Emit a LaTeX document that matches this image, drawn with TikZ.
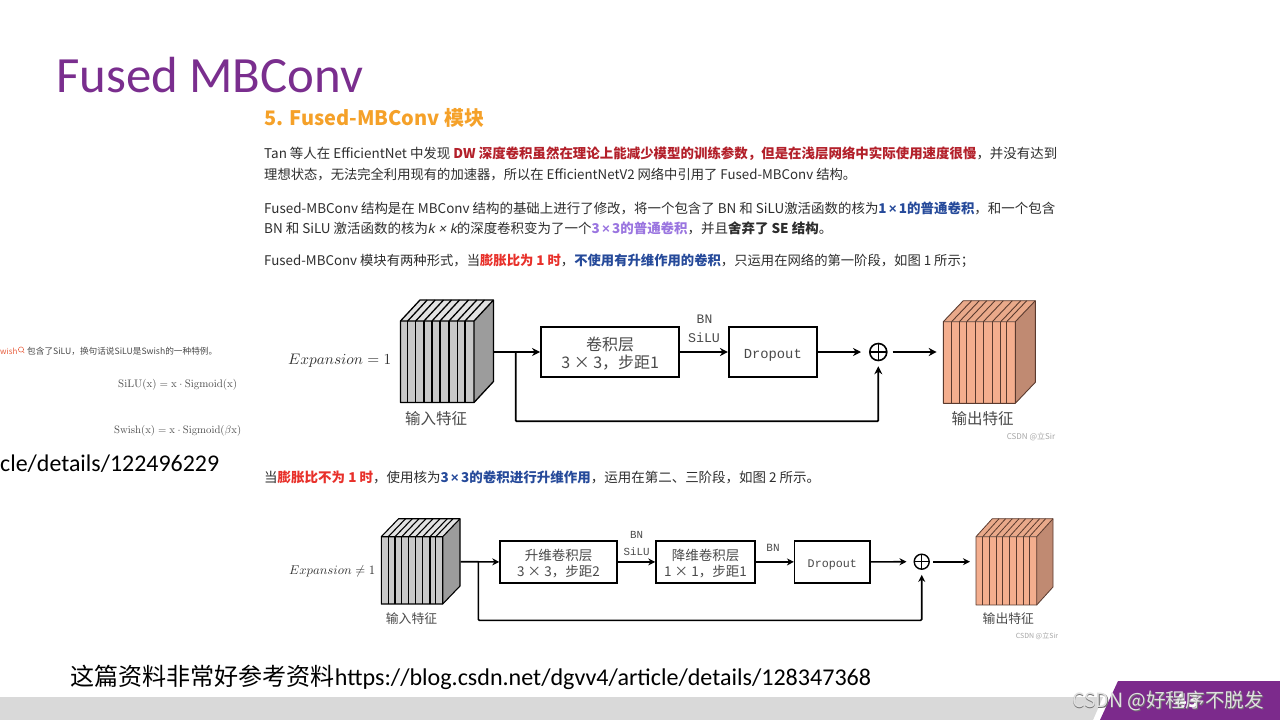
\documentclass[tikz,border=0pt]{standalone}
\usepackage[no-math]{fontspec}
\usepackage{graphicx}
\usetikzlibrary{arrows.meta}
\setmainfont{Noto Sans CJK SC}
\newfontfamily\carl{Carlito}
\newfontfamily\monof{Liberation Mono}
\newfontfamily\arial{Liberation Sans}
\newfontfamily\slantf[FakeSlant=0.2]{Liberation Sans}
\newcommand\fsz[1]{\fontsize{#1pt}{#1pt}\selectfont}
\newcommand\tms{{\arial ×}}
\definecolor{ptitle}{HTML}{7A2E8E}
\definecolor{pbar}{HTML}{7C2A8C}
\definecolor{barg}{HTML}{D9D9D9}
\definecolor{txt}{HTML}{2E2E2E}
\definecolor{lbl}{HTML}{4A4A4A}
\definecolor{head}{HTML}{F5A129}
\definecolor{dred}{HTML}{B3202A}
\definecolor{bred}{HTML}{E8302A}
\definecolor{dblue}{HTML}{264A9A}
\definecolor{lpur}{HTML}{9A75E0}
\definecolor{sfront}{HTML}{F4AE8E}
\definecolor{sside}{HTML}{C08A72}
\definecolor{stop}{HTML}{E9A98A}
\definecolor{gfront}{HTML}{C8C8C8}
\definecolor{gside}{HTML}{9C9C9C}
\definecolor{gtop}{HTML}{E2E2E2}
\definecolor{sline}{HTML}{5A3A2E}
% front, side, top, line, width
\newcommand\featlook[5]{\def\ffront{#1}\def\fside{#2}\def\ftop{#3}\def\fline{#4}\def\fwd{#5}}
% name, x0, ytop, x1, ybot, dx, dy, stripes
\newcommand\featblock[8]{%
  \node[inner sep=0pt,minimum width={#4-#2},minimum height={#5-#3},anchor=north west] (#1) at (#2,#3) {};
  \fill[\ftop] (#2,#3) -- ++(#6,-#7) -- ++(#4-#2,0) -- ++(-#6,#7) -- cycle;
  \fill[\ffront] (#2,#3) rectangle (#4,#5);
  \fill[\fside] (#4,#3) -- ++(#6,-#7) -- ++(0,#5-#3) -- ++(-#6,#7) -- cycle;
  \foreach \sx in {#8} {
    \draw[\fline,line width=\fwd] (\sx,#3) -- (\sx,#5);
    \draw[\fline,line width=\fwd] (\sx,#3) -- ++(#6,-#7);
  }
  \draw[\fline,line width=\fwd,line join=round] (#2,#3) -- ++(#6,-#7) -- ++(#4-#2,0) -- ++(0,#5-#3) -- ++(-#6,#7) -- (#2,#5) -- cycle;
  \draw[\fline,line width=\fwd] (#2,#3) -- (#4,#3) -- (#4,#5) (#4,#3) -- ++(#6,-#7);
}
% name, x, y, width, content
\newcommand\tl[5]{\node[anchor=west,inner sep=0pt,text=txt] (#1) at (#2,#3) {\resizebox{#4pt}{!}{#5}};}
\newcommand\lowr[1]{\raisebox{-1.6pt}[\height][\depth]{#1}}
\newcommand\lowm[1]{\raisebox{-3pt}[\height][\depth]{#1}}
\tikzset{
  opbox/.style={draw=black,fill=white,line width=2pt,inner sep=0pt,align=center,text=lbl},
  opboxb/.style={draw=black,fill=white,line width=1.5pt,inner sep=0pt,align=center,text=lbl},
  arrowa/.style={draw=black,line width=1.8pt,-{Stealth[length=8pt,width=8pt]}},
  arrowb/.style={draw=black,line width=1.6pt,-{Stealth[length=7pt,width=7pt]}},
  caption/.style={inner sep=0pt,text=lbl},
  oplus/.style={circle,draw=black,minimum size=#1,inner sep=0pt,
    path picture={\draw[black,line width=1.4pt] (path picture bounding box.north) -- (path picture bounding box.south)
      (path picture bounding box.west) -- (path picture bounding box.east);}},
}
\begin{document}
\begin{tikzpicture}[x=1pt,y=-1pt]
\useasboundingbox (0,0) rectangle (1280,720);
\fill[white] (0,0) rectangle (1280,720);

% footer
\fill[barg] (0,697) -- (1103,697) -- (1093,720) -- (0,720) -- cycle;
\fill[pbar] (1118,681) -- (1280,681) -- (1280,720) -- (1100,720) -- cycle;

% title
\node[anchor=west,inner sep=0pt,text=ptitle] (title) at (56,75) {\resizebox{307pt}{!}{\carl\fsz{50}Fused MBConv}};

% article
\tl{heading}{264}{118}{220}{\fsz{19}\bfseries\color{head}5. Fused-MBConv 模块}
\tl{l1}{264}{154}{793}{\fsz{13}Tan 等人在 EfficientNet 中发现 {\bfseries\color{dred}DW 深度卷积虽然在理论上能减少模型的训练参数，但是在浅层网络中实际使用速度很慢}，并没有达到}
\tl{l2}{264}{174.5}{592}{\fsz{13}理想状态，无法完全利用现有的加速器，所以在 EfficientNetV2 网络中引用了 Fused-MBConv 结构。}
\tl{l3}{264}{208}{791}{\fsz{13}Fused-MBConv 结构是在 MBConv 结构的基础上进行了修改，将一个包含了 BN 和 SiLU激活函数的核为{\bfseries\color{dblue}1\,\tms\,1的普通卷积}，和一个包含}
\tl{l4}{264}{228}{568}{\fsz{13}BN 和 SiLU 激活函数的核为{\slantf k × k}的深度卷积变为了一个{\bfseries\color{lpur}3\,\tms\,3的普通卷积}，并且{\bfseries 舍弃了 SE 结构}。}
\tl{l5}{264}{261}{710}{\fsz{13}Fused-MBConv 模块有两种形式，当{\bfseries\color{bred}膨胀比为 1 时}，{\bfseries\color{dblue}不使用有升维作用的卷积}，只运用在网络的第一阶段，如图 1 所示；}
\tl{l6}{264}{477}{556}{\fsz{13}当{\bfseries\color{bred}膨胀比不为 1 时}，使用核为{\bfseries\color{dblue}3\,\tms\,3的卷积进行升维作用}，运用在第二、三阶段，如图 2 所示。}

% diagram 1
\node[anchor=west,inner sep=0pt,text=black!80] (exp1) at (288,361) {\resizebox{103pt}{!}{$Expansion=1$}};
\featlook{gfront}{gside}{gtop}{black}{1.3pt}
\featblock{in1}{400.5}{321}{474}{402.5}{19.5}{21}{407.7,415.7,424,432,440,449,457.3,465}
\node[caption] (in1cap) at (436,419) {\fsz{15.5}输入特征};
\coordinate (in1o) at (494,352);
\coordinate (s1) at (515.7,352);
\coordinate (s1b) at (515.7,421.3);
\node[opbox,minimum width=138.3pt,minimum height=49.4pt] (conv1) at (610.2,352) {\lowr{\fsz{16}卷积层}\\[3pt]\lowr{\fsz{16}3 × 3，步距1}};
\node[opbox,minimum width=87.7pt,minimum height=49.4pt] (drop1) at (772.8,352) {\lowm{\monof\fsz{13.8}Dropout}};
\node[oplus=17pt,line width=1.6pt] (plus1) at (878.3,352) {};
\featlook{sfront}{sside}{stop}{sline}{0.9pt}
\featblock{out1}{943.3}{321.7}{1015.3}{403.3}{20}{21}{951.6,959.3,966.7,975,983.3,992.3,1000.7,1006.7}
\coordinate (out1i) at (936.7,352);
\node[caption] (out1cap) at (982.5,419) {\fsz{15.5}输出特征};
\node[inner sep=0pt,text=gray!70] (wm1) at (1031,437) {\fsz{8}CSDN @立Sir};
\node[inner sep=0pt,text=lbl] (bn1) at (704.5,319) {\monof\fsz{13}BN};
\node[inner sep=0pt,text=lbl] (si1) at (704,338) {\monof\fsz{13.3}SiLU};
\draw[arrowa] (in1o) -- (conv1.west);
\draw[arrowa] (conv1.east) -- (drop1.west);
\draw[arrowa,shorten >=8pt] (drop1.east) -- (plus1.west);
\draw[arrowa,shorten <=5pt] (plus1.east) -- (out1i);
\draw[arrowa,rounded corners=1pt,shorten >=5pt] (s1) -- (s1b) -| (plus1.south);

% diagram 2
\node[anchor=west,inner sep=0pt,text=black!80] (exp2) at (289,571) {\resizebox{86pt}{!}{$Expansion\neq 1$}};
\featlook{gfront}{gside}{gtop}{black}{1.1pt}
\featblock{in2}{381.3}{536.7}{442.7}{604}{17.3}{18}{388.3,395,401.7,408.7,415.7,422.7,430,435.7}
\node[caption] (in2cap) at (411.5,619) {\fsz{12.8}输入特征};
\coordinate (in2o) at (460.5,561.7);
\coordinate (s2) at (478.3,561.7);
\coordinate (s2b) at (478.3,620.3);
\node[opboxb,minimum width=117pt,minimum height=41.7pt] (conv2) at (558.5,561.9) {\lowr{\fsz{13.5}升维卷积层}\\[2.5pt]\lowr{\fsz{13.5}3 × 3，步距2}};
\node[opboxb,minimum width=99pt,minimum height=41.7pt] (conv3) at (705.5,561.9) {\lowr{\fsz{13.5}降维卷积层}\\[2.5pt]\lowr{\fsz{13.5}1 × 1，步距1}};
\node[opboxb,minimum width=75.3pt,minimum height=41.7pt] (drop2) at (832.3,561.9) {\lowm{\monof\fsz{11.7}Dropout}};
\node[oplus=15pt,line width=1.4pt] (plus2) at (921.7,561.7) {};
\featlook{sfront}{sside}{stop}{sline}{0.8pt}
\featblock{out2}{976}{536.7}{1036.7}{605}{16.3}{18}{982.7,989.3,996,1002.7,1009.3,1016.7,1023.3,1029.3}
\coordinate (out2i) at (970,561.7);
\node[caption] (out2cap) at (1008.3,619) {\fsz{12.8}输出特征};
\node[inner sep=0pt,text=gray!70] (wm2) at (1037,636) {\fsz{7}CSDN @立Sir};
\node[inner sep=0pt,text=lbl] (bn2) at (636.7,535) {\monof\fsz{10.8}BN};
\node[inner sep=0pt,text=lbl] (si2) at (636.7,551.7) {\monof\fsz{10.8}SiLU};
\node[inner sep=0pt,text=lbl] (bn3) at (773,547.7) {\monof\fsz{11}BN};
\draw[arrowb] (in2o) -- (conv2.west);
\draw[arrowb] (conv2.east) -- (conv3.west);
\draw[arrowb] (conv3.east) -- (drop2.west);
\draw[arrowb,shorten >=7pt] (drop2.east) -- (plus2.west);
\draw[arrowb,shorten <=3.5pt] (plus2.east) -- (out2i);
\draw[arrowb,rounded corners=1pt,shorten >=5pt] (s2) -- (s2b) -| (plus2.south);

% left fragment
\definecolor{wishc}{HTML}{E85D3C}
\node[anchor=west,inner sep=0pt,text=wishc] (wish) at (0,351) {\fsz{8}wish};
\draw[wishc,line width=0.5pt] (21,349.5) circle (2.6pt) (22.8,351.4) -- (24.3,353);
\tl{silu}{27}{351}{190}{\fsz{8}\color{lbl}包含了SiLU，换句话说SiLU是Swish的一种特例。}
\node[anchor=west,inner sep=0pt,text=black!70] (f1) at (118,385) {\resizebox{119pt}{!}{$\mathrm{SiLU(x)=x\cdot Sigmoid(x)}$}};
\node[anchor=west,inner sep=0pt,text=black!70] (f2) at (114,431) {\resizebox{127pt}{!}{$\mathrm{Swish(x)=x\cdot Sigmoid(}\beta\mathrm{x)}$}};
\node[anchor=west,inner sep=0pt,text=black] (url1) at (0,464) {\resizebox{219pt}{!}{\carl\fsz{24}cle/details/122496229}};

% bottom reference
\node[anchor=west,inner sep=0pt,text=black] (refline) at (70,677.5) {\resizebox{801pt}{!}{\fsz{24}这篇资料非常好参考资料{\carl https://blog.csdn.net/dgvv4/article/details/128347368}}};

% page number & watermark
\node[inner sep=0pt,text=white] (page) at (1187,701) {\fsz{19}\bfseries 43};
\node[inner sep=0pt,text=black!55] (wmshadow) at (1168.7,701.7) {\fsz{19.6}CSDN @好程序不脱发};
\node[inner sep=0pt,text=black!12] (wm) at (1168,701) {\fsz{19.6}CSDN @好程序不脱发};
\end{tikzpicture}
\end{document}
